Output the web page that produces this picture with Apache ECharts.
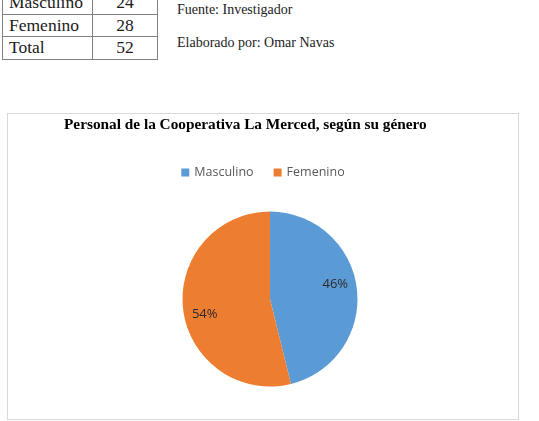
<!DOCTYPE html>
<html>
<head>
<meta charset="utf-8">
<script src="https://cdn.jsdelivr.net/npm/echarts@6/dist/echarts.min.js"></script>
<style>
  body { margin: 0; background: #fff; width: 539px; height: 421px; overflow: hidden; position: relative; }
  #tabla { position: absolute; left: 2px; top: -9px; border-collapse: collapse; font-family: "Liberation Serif", "Times New Roman", serif; font-size: 17.5px; color: #1a1a1a; }
  #tabla td { border: 1.5px solid #808080; height: 21.5px; padding: 0 6px; line-height: 21.5px; }
  #tabla td.num { text-align: center; width: 52px; }
  #tabla td.cat { width: 77px; }
  .nota { position: absolute; left: 177px; font-family: "Liberation Serif", "Times New Roman", serif; font-size: 14px; color: #222; white-space: nowrap; }
  #grafico { position: absolute; left: 7px; top: 113px; width: 510px; height: 305px; border: 1px solid #d9d9d9; }
</style>
</head>
<body>
<table id="tabla"></table>
<div class="nota" style="top:2px">Fuente: Investigador</div>
<div class="nota" style="top:35px">Elaborado por: Omar Navas</div>
<div id="grafico"></div>
<script>
// datos
var categorias = ['Masculino', 'Femenino'];
var personas = [24, 28];
var colores = ['#5b9bd5', '#ed7d31'];

// tabla de frecuencias
var total = personas.reduce(function (a, b) { return a + b; }, 0);
var filas = categorias.map(function (c, i) { return [c, personas[i]]; });
filas.push(['Total', total]);
document.getElementById('tabla').innerHTML = filas.map(function (f) {
    return '<tr><td class="cat">' + f[0] + '</td><td class="num">' + f[1] + '</td></tr>';
}).join('');

var datos = categorias.map(function (c, i) { return { name: c, value: personas[i] }; });

var myChart = echarts.init(document.getElementById('grafico'));
option = {
    animation: false,
    color: colores,
    title: {
        text: 'Personal de la Cooperativa La Merced, según su género',
        left: 56, top: 4, padding: 0,
        textStyle: { fontFamily: 'Liberation Serif', fontWeight: 'bold', fontSize: 15.3, color: '#000' }
    },
    legend: {
        data: categorias, top: 47, left: 'center',
        icon: 'rect', itemWidth: 8, itemHeight: 8, itemGap: 20, itemTextGap: 4,
        textStyle: { fontFamily: 'Open Sans', fontSize: 12.5, color: '#595959' }
    },
    series: [{
        type: 'pie', center: [262, 185], radius: 87.5,
        startAngle: 90, clockwise: true,
        label: { show: false }, labelLine: { show: false },
        itemStyle: { borderWidth: 0 },
        data: datos
    }, {
        //serie transparente solo para colocar las etiquetas como en Excel
        type: 'pie', center: [262, 185], radius: [40, 88],
        startAngle: 96, clockwise: true, silent: true,
        itemStyle: { color: 'rgba(0,0,0,0)', borderWidth: 0 },
        label: {
            show: true, position: 'inside',
            formatter: function (p) { return Math.round(p.percent) + '%'; },
            fontFamily: 'Open Sans', fontSize: 13, color: '#2b2b2b'
        },
        data: datos
    }]
};
myChart.setOption(option);
</script>
</body>
</html>
